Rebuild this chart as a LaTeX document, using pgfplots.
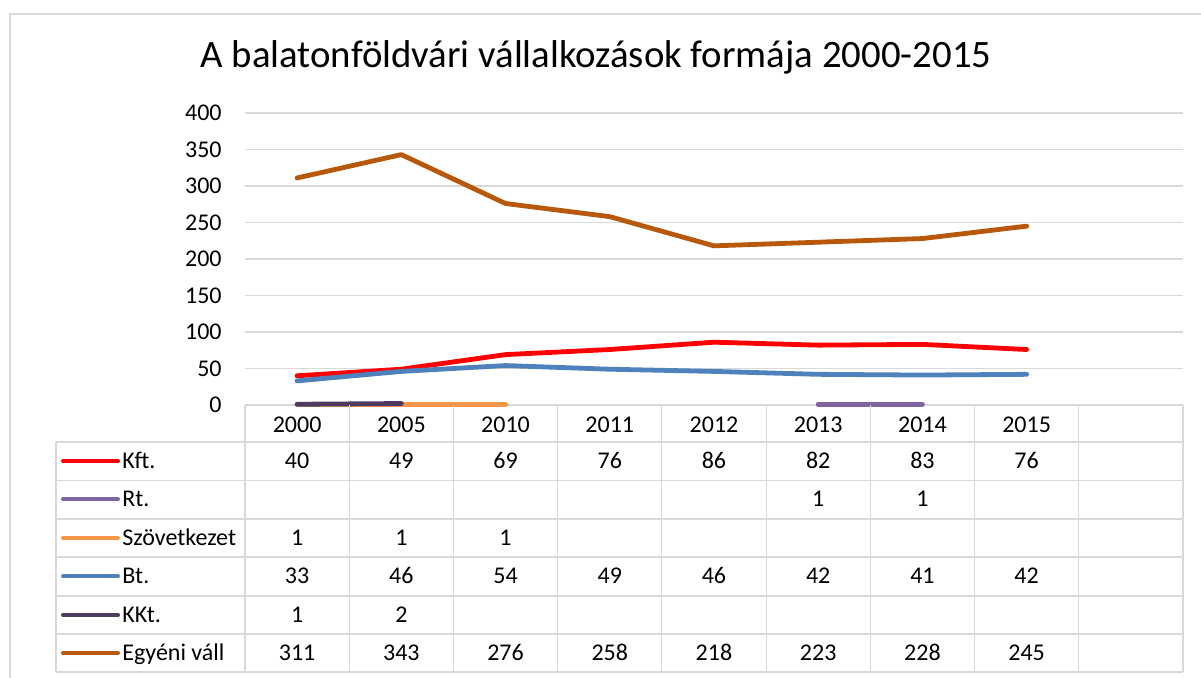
\documentclass[border=0pt]{standalone}
\usepackage{fontspec}
\setmainfont{Carlito}
\usepackage{pgfplots}
\usepackage{pgfplotstable}
\pgfplotsset{compat=1.18}
\definecolor{kft}{RGB}{255,0,0}
\definecolor{rt}{RGB}{128,100,162}
\definecolor{szov}{RGB}{247,150,70}
\definecolor{bt}{RGB}{79,129,189}
\definecolor{kkt}{RGB}{77,59,98}
\definecolor{egy}{RGB}{184,88,10}
\definecolor{gridc}{RGB}{217,217,217}

\pgfplotstableread{
x y
0 40
1 49
2 69
3 76
4 86
5 82
6 83
7 76
}\kftdata
\pgfplotstableread{
x y
5 1
6 1
}\rtdata
\pgfplotstableread{
x y
0 1
1 1
2 1
}\szovdata
\pgfplotstableread{
x y
0 33
1 46
2 54
3 49
4 46
5 42
6 41
7 42
}\btdata
\pgfplotstableread{
x y
0 1
1 2
}\kktdata
\pgfplotstableread{
x y
0 311
1 343
2 276
3 258
4 218
5 223
6 228
7 245
}\egydata

\begin{document}
\fontsize{12}{14}\selectfont
\begin{tikzpicture}
\useasboundingbox (0,0) rectangle (600.5pt,339pt);
\begin{axis}[
  at={(122.5pt,136.5pt)}, anchor=south west,
  scale only axis, width=469pt, height=146pt,
  xmin=-0.5, xmax=8.5, ymin=0, ymax=400,
  xtick={0,...,7},
  xticklabels={2000,2005,2010,2011,2012,2013,2014,2015},
  ytick={0,50,...,400},
  ymajorgrids, grid style={gridc, line width=0.6pt},
  axis line style={draw=none}, major tick length=0pt,
  tick label style={font=\fontsize{12}{14}\selectfont},
  yticklabel style={anchor=east, inner sep=0pt, xshift=-11.5pt},
  xticklabel style={anchor=center, inner sep=0pt, yshift=-9.75pt},
  /pgf/number format/assume math mode=true,
  clip=false,
  every node near coord/.append style={anchor=base, inner sep=0pt, text=black, font=\fontsize{12}{14}\selectfont},
  series/.style={line width=2.4pt, line cap=round, line join=round, mark=none},
  txt/.style={draw=none, mark=none, nodes near coords, point meta=explicit},
]
\addplot[series, kft] table[x=x,y=y] {\kftdata};
\addplot[series, rt] table[x=x,y=y] {\rtdata};
\addplot[series, szov] table[x=x,y=y] {\szovdata};
\addplot[series, bt] table[x=x,y=y] {\btdata};
\addplot[series, kkt] table[x=x,y=y] {\kktdata};
\addplot[series, egy] table[x=x,y=y] {\egydata};

\addplot[txt] table[x=x, y expr=-87.0, meta=y] {\kftdata};
\addplot[txt] table[x=x, y expr=-139.7, meta=y] {\rtdata};
\addplot[txt] table[x=x, y expr=-192.5, meta=y] {\szovdata};
\addplot[txt] table[x=x, y expr=-245.2, meta=y] {\btdata};
\addplot[txt] table[x=x, y expr=-297.9, meta=y] {\kktdata};
\addplot[txt] table[x=x, y expr=-350.0, meta=y] {\egydata};
\end{axis}

\begin{scope}[x=0.5pt, y=-0.5pt, yshift=339pt]
  \draw[gridc, line width=0.7pt] (10,678) -- (10,14) -- (1201,14);
  \foreach \yy in {442,480.5,519,557,596,634,672}
    \draw[gridc, line width=0.6pt] (56,\yy) -- (1183,\yy);
  \draw[gridc, line width=0.6pt] (56,442) -- (56,672);
  \foreach \k in {0,...,9}
    \draw[gridc, line width=0.6pt] ({245+\k*104.222},405) -- ({245+\k*104.222},672);
  \node[anchor=base, inner sep=0pt, font=\fontsize{19.4}{23}\selectfont] at (596,68) {A balatonföldvári vállalkozások formája 2000-2015};
  \foreach \c/\yy/\lab in {kft/461/Kft., rt/499.5/Rt., szov/538/Szövetkezet, bt/576.5/Bt., kkt/615/KKt., egy/653/Egyéni váll}{
    \draw[\c, line width=2pt, line cap=round] (63,\yy) -- (118,\yy);
    \node[anchor=base west, inner sep=0pt] at (122,\yy+7.5) {\lab};
  }
\end{scope}
\end{tikzpicture}
\end{document}
